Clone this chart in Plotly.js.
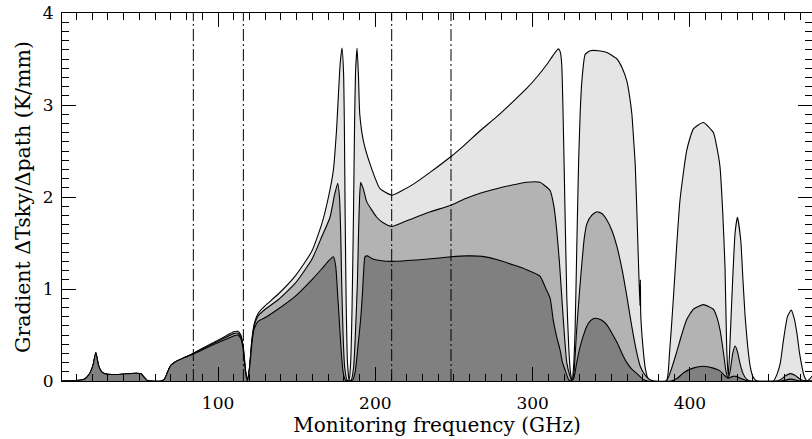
<!DOCTYPE html>
<html><head><meta charset="utf-8">
<script src="https://cdn.plot.ly/plotly-3.0.1.min.js"></script>
<style>body{margin:0;background:#fff}</style>
</head><body><div id="chart" style="width:812px;height:439px"></div>
<script>
// Monitoring frequency (GHz) and gradient dTsky/dpath (K/mm) for three cases
const freqUpper = [0,10,15,18,20.5,22.3,24,26,29,35,42,48,51,53,55,57,64,66,68,70,73,78,84,95,105,110,112.5,114.5,116,117.5,118.7,120,121.5,123,125.6,130,138,149,159.6,166,170.2,173.3,175.3,177.6,178.8,179.8,180.3,180.8,181.5,182.3,183.3,184.3,185.2,186.1,186.8,187.4,188.4,189.3,190.1,192.4,196.6,203,210.4,217,224.2,235,248.1,257,266.6,277,287.7,296.2,303,309,313,316.3,317.5,318.5,320,321.7,323,324,325,326,327,328,329.2,330.2,331.3,333.4,336.6,342,347.2,353.6,357,359.9,361.6,363.1,364.3,365.2,366.3,367.3,368.2,368.5,368.7,369.5,370.5,371.5,373,375,385,387,389.4,391.5,393.7,398,402.2,408.5,414.9,417,419.1,420.8,422.3,423.4,424.4,425.3,426.6,428.7,430.2,432.3,433.7,435.1,436.7,438.3,440,442.5,453.1,455.5,457.5,459.5,462,464.4,466.3,468,469.7,471.2,472.5,474.4,476,478];
const gradUpper = [0,0.005,0.02,0.07,0.17,0.31,0.17,0.1,0.075,0.07,0.078,0.085,0.078,0.04,0.005,0,0,0.02,0.1,0.17,0.21,0.25,0.3,0.4,0.49,0.535,0.54,0.5,0.38,0.12,0,0.15,0.45,0.62,0.74,0.82,0.94,1.14,1.41,1.71,2.0,2.29,2.72,3.44,3.62,3.35,2.8,1.8,0.8,0.2,0,0.2,0.8,1.8,2.8,3.35,3.62,3.3,2.9,2.61,2.36,2.09,2.02,2.07,2.14,2.27,2.44,2.57,2.72,2.87,3.04,3.18,3.31,3.44,3.54,3.61,3.58,3.44,2.36,0.92,0.35,0.1,0,0.15,0.56,1.4,2.36,2.9,3.26,3.55,3.59,3.59,3.57,3.5,3.4,3.26,3.1,2.9,2.6,2.36,1.82,1.28,0.82,1.1,0.74,0.5,0.3,0.15,0.04,0,0,0.3,0.88,1.45,1.97,2.51,2.74,2.81,2.7,2.55,2.33,1.85,1.24,0.34,0.05,0.35,0.88,1.61,1.78,1.53,1.1,0.7,0.38,0.16,0.05,0,0,0.08,0.2,0.45,0.7,0.77,0.68,0.52,0.3,0.16,0.06,0,0.02,0.06];

const freqMid = [0,10,15,18,20.5,22.3,24,26,29,35,42,48,51,53,55,57,64,66,68,70,73,78,84,95,105,110,112.5,114.5,116,117.5,118.7,120,121.5,123,125.6,130,138,149,159.6,166,171.2,174,176.1,177.2,178,178.6,179.5,180.5,182,183.3,184.7,186.2,187.3,188.6,189.3,190,190.7,192.5,194.5,200.9,205,210.4,217,224.2,235,248.1,257,266.6,277,287,296.2,304.7,308,311.1,313.5,315.3,317,318.5,320.2,321.7,323.8,325,326.3,328,329.7,331.3,332.8,334.5,337.5,340.8,344,347.2,350.5,353.6,357,359.9,362,364.1,366.3,368.4,370.5,372.7,375,377,385,388,391.5,394.7,398,402.2,408.5,414.9,417,419.2,421.3,423,424.4,425.7,427.2,428.7,430.2,431.7,433.8,436,438,455,458,461,464,467,470,472,478];
const gradMid = [0,0.005,0.02,0.07,0.17,0.31,0.17,0.1,0.075,0.07,0.078,0.085,0.078,0.04,0.005,0,0,0.02,0.1,0.17,0.21,0.25,0.295,0.39,0.475,0.515,0.52,0.48,0.36,0.1,0,0.14,0.43,0.6,0.71,0.78,0.88,1.06,1.32,1.57,1.78,2.02,2.15,2.0,1.6,1.07,0.5,0.15,0.01,0,0.01,0.15,0.5,1.07,1.6,2.0,2.16,2.08,1.95,1.78,1.72,1.68,1.72,1.77,1.84,1.91,1.98,2.04,2.09,2.13,2.16,2.16,2.12,2.07,1.9,1.64,1.3,0.92,0.5,0.2,0.05,0,0.1,0.56,0.95,1.28,1.55,1.71,1.8,1.84,1.82,1.75,1.63,1.46,1.2,0.92,0.7,0.49,0.3,0.16,0.09,0.04,0.01,0,0,0.12,0.31,0.5,0.67,0.78,0.83,0.78,0.7,0.55,0.31,0.1,0.03,0.12,0.3,0.38,0.32,0.2,0.08,0.02,0,0,0.02,0.06,0.08,0.06,0.02,0.005,0];

const freqDark = [0,10,15,18,20.5,22.3,24,26,29,35,42,48,51,53,55,57,64,66,68,70,73,78,84,95,105,110,112.5,114.5,116,117.5,118.7,120,121.5,122.4,123,125.6,130,138,149,159.6,166,170,173.3,174.8,176,177,178.2,179.5,181,183.3,185.5,187.2,188.8,190.7,191.8,192.6,193.4,195,198,203,210.4,230,248.1,258.1,268,277.2,288,296.2,304.7,308.5,311.1,313.2,315.3,317.4,319,320.6,322.7,324,326,328,330,332.2,334.3,336.5,339,341.1,344,347.2,350.4,353.6,356.8,359.9,363,366.3,370,373,388,392,396,402,408.5,414.9,419.1,422,424.4,427,429.4,432,436,438,458,464,470,478];
const gradDark = [0,0.005,0.02,0.07,0.17,0.31,0.17,0.1,0.075,0.07,0.078,0.085,0.078,0.04,0.005,0,0,0.02,0.1,0.17,0.21,0.25,0.29,0.38,0.455,0.49,0.5,0.46,0.34,0.09,0,0.13,0.4,0.52,0.57,0.65,0.69,0.78,0.92,1.1,1.22,1.3,1.35,1.25,0.95,0.68,0.35,0.1,0.01,0,0.01,0.1,0.35,0.68,0.95,1.2,1.35,1.36,1.33,1.31,1.3,1.32,1.35,1.36,1.355,1.32,1.26,1.21,1.14,1.0,0.9,0.65,0.48,0.34,0.2,0.12,0.02,0,0.02,0.2,0.36,0.49,0.59,0.65,0.68,0.68,0.66,0.61,0.52,0.42,0.3,0.2,0.13,0.08,0.02,0,0,0.03,0.09,0.14,0.16,0.14,0.11,0.06,0.03,0.05,0.05,0.03,0.005,0,0,0.02,0,0];

const markerFreqs = [84.3, 116.1, 210.4, 248.1];
const xTickVals = [100, 200, 300, 400];
const yTickVals = [0, 1, 2, 3, 4];

const FONT = 'DejaVu Serif';
function area(x, y, fill) {
  return {x: x, y: y, type: 'scatter', mode: 'lines', fill: 'tozeroy', fillcolor: fill,
    line: {color: '#000', width: 1.1, shape: 'spline', smoothing: 0.5}, hoverinfo: 'skip', showlegend: false};
}
const data = [
  area(freqUpper, gradUpper, '#e5e5e5'),
  area(freqMid, gradMid, '#b3b3b3'),
  area(freqDark, gradDark, '#808080')
];
const shapes = markerFreqs.map(f => ({type: 'line', xref: 'x', yref: 'paper', x0: f, x1: f, y0: 0, y1: 1,
  line: {color: '#000', width: 1, dash: '12px,3px,2px,3px'}}));

const axisCommon = {showgrid: false, zeroline: false, showline: true, linecolor: '#000', linewidth: 1,
  mirror: 'allticks', ticks: 'inside', ticklen: 14, tickwidth: 1, tickcolor: '#000', tickmode: 'linear'};
const layout = {
  width: 812, height: 439, paper_bgcolor: '#fff', plot_bgcolor: '#fff',
  margin: {l: 62, r: 0, t: 13, b: 58},
  shapes: shapes,
  xaxis: Object.assign({}, axisCommon, {
    range: [0.8, 477.6], tick0: xTickVals[0], dtick: xTickVals[1] - xTickVals[0],
    minor: {dtick: 10, tick0: 0, ticklen: 7, tickcolor: '#000', tickwidth: 1, ticks: 'inside', showgrid: false},
    tickfont: {family: FONT, size: 17, color: '#000'}, ticklabelstandoff: 7,
    title: {text: 'Monitoring frequency (GHz)', font: {family: FONT, size: 20, color: '#000'}, standoff: 2}
  }),
  yaxis: Object.assign({}, axisCommon, {
    range: [0, 4], tick0: yTickVals[0], dtick: yTickVals[1] - yTickVals[0],
    minor: {dtick: 0.1, tick0: 0, ticklen: 7, tickcolor: '#000', tickwidth: 1, ticks: 'inside', showgrid: false},
    tickfont: {family: FONT, size: 17, color: '#000'}, ticklabelstandoff: 4,
    title: {text: 'Gradient ΔTsky/Δpath (K/mm)', font: {family: FONT, size: 20.5, color: '#000'}, standoff: 6}
  })
};
Plotly.newPlot('chart', data, layout, {staticPlot: true, displayModeBar: false});
</script>
</body></html>
